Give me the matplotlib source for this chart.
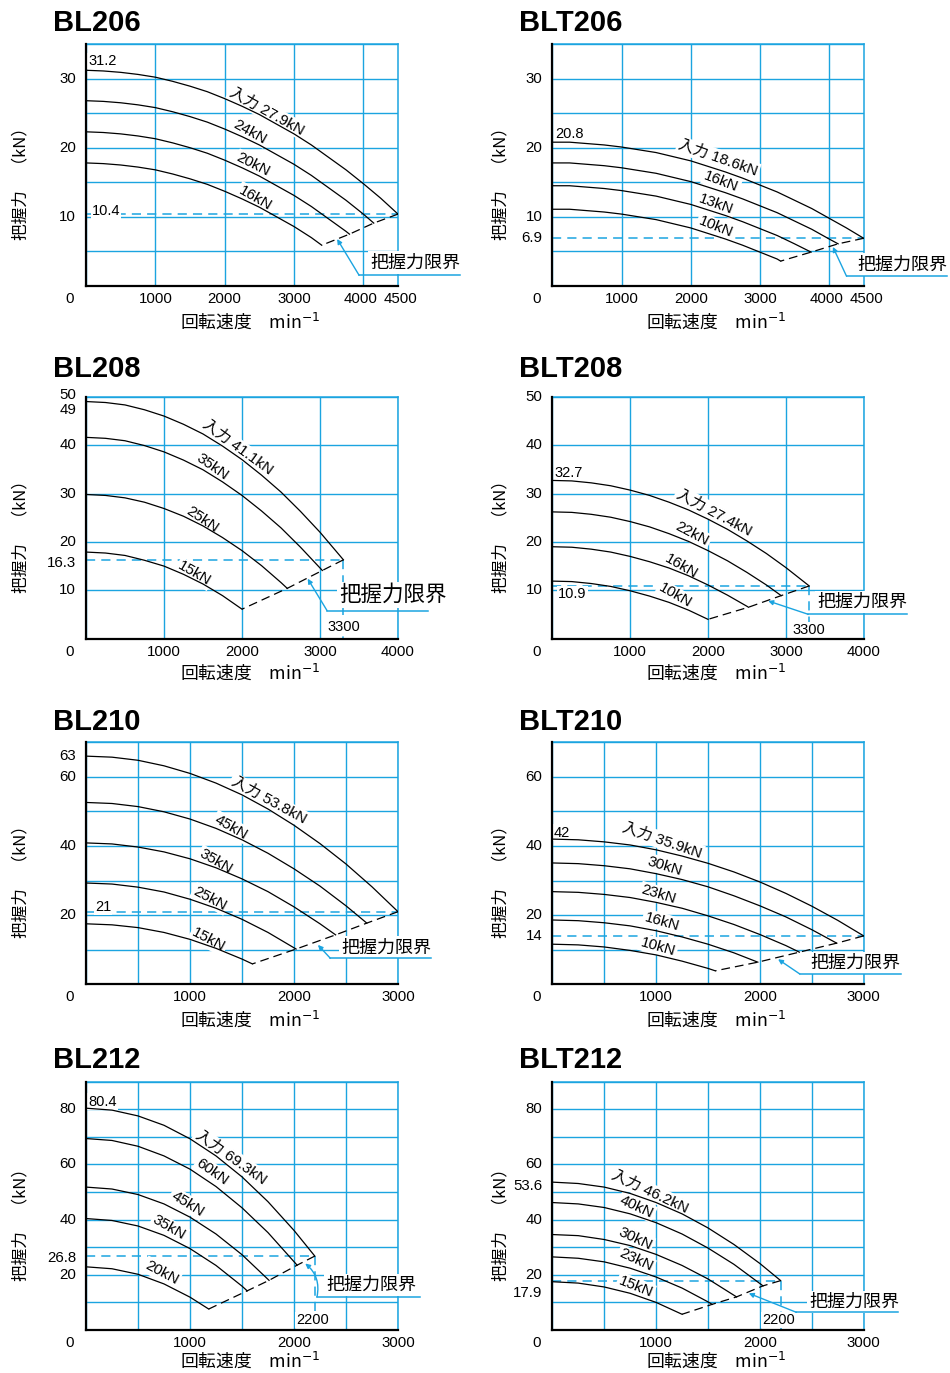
import matplotlib
matplotlib.use('Agg')
import matplotlib.pyplot as plt
from matplotlib.ticker import MultipleLocator

plt.rcParams['font.family'] = ['Liberation Sans', 'Noto Sans CJK JP', 'DejaVu Sans']
plt.rcParams['mathtext.fontset'] = 'dejavusans'

BLUE = '#1ba4e0'
JP = ['Noto Sans CJK JP', 'DejaVu Sans']
W, H = 950, 1373

# ---------------- data ----------------
# grip force (kN) read every 250 min-1, last value at the curve end speed
STEPS = [0, 250, 500, 750, 1000, 1250, 1500, 1750, 2000, 2250, 2500,
         2750, 3000, 3250, 3500, 3750, 4000, 4250, 4500]

bl206_names = ['入力 27.9kN', '24kN', '20kN', '16kN']
bl206_ends = [4500, 4150, 3800, 3400]
bl206_force = [
    [31.2, 31.1, 30.9, 30.6, 30.2, 29.6, 28.9, 28.1, 27.1, 26.0, 24.8, 23.4, 22.0, 20.4, 18.6, 16.8, 14.8, 12.7, 10.4],
    [26.8, 26.7, 26.5, 26.2, 25.8, 25.2, 24.5, 23.7, 22.7, 21.6, 20.4, 19.0, 17.6, 16.0, 14.2, 12.4, 10.4, 9.1],
    [22.3, 22.2, 22.0, 21.7, 21.3, 20.7, 20.0, 19.2, 18.2, 17.1, 15.9, 14.5, 13.1, 11.5, 9.7, 7.9, 7.5],
    [17.8, 17.7, 17.5, 17.2, 16.8, 16.2, 15.5, 14.7, 13.7, 12.6, 11.4, 10.0, 8.6, 7.0, 5.9]]
bl206_limit = [4500, 10.4]
bl206_xticks = [1000, 2000, 3000, 4000, 4500]
bl206_yticks = [10, 20, 30]
bl206_marks = ['31.2', '10.4']

blt206_names = ['入力 18.6kN', '16kN', '13kN', '10kN']
blt206_ends = [4500, 4130, 3740, 3300]
blt206_force = [
    [20.8, 20.8, 20.6, 20.4, 20.1, 19.7, 19.3, 18.7, 18.1, 17.3, 16.5, 15.6, 14.6, 13.6, 12.4, 11.2, 9.8, 8.4, 6.9],
    [17.8, 17.8, 17.6, 17.4, 17.1, 16.7, 16.3, 15.7, 15.1, 14.3, 13.5, 12.6, 11.6, 10.6, 9.4, 8.2, 6.8, 6.1],
    [14.5, 14.5, 14.3, 14.1, 13.8, 13.4, 13.0, 12.4, 11.8, 11.0, 10.2, 9.3, 8.3, 7.3, 6.1, 4.9],
    [11.1, 11.1, 10.9, 10.7, 10.4, 10.0, 9.6, 9.0, 8.4, 7.6, 6.8, 5.9, 4.9, 3.9, 3.6]]
blt206_limit = [4500, 6.9]
blt206_xticks = [1000, 2000, 3000, 4000, 4500]
blt206_yticks = [6.9, 10, 20, 30]
blt206_marks = ['20.8']

bl208_names = ['入力 41.1kN', '35kN', '25kN', '15kN']
bl208_ends = [3300, 3030, 2580, 2000]
bl208_force = [
    [49.0, 48.8, 48.3, 47.3, 46.0, 44.3, 42.3, 39.8, 37.0, 33.8, 30.3, 26.3, 22.0, 16.3],
    [41.6, 41.4, 40.9, 39.9, 38.6, 36.9, 34.9, 32.4, 29.6, 26.4, 22.9, 18.9, 14.1],
    [29.8, 29.6, 29.1, 28.2, 26.9, 25.3, 23.3, 20.9, 18.2, 15.1, 11.6, 10.4],
    [17.9, 17.7, 17.2, 16.2, 15.0, 13.3, 11.3, 8.9, 6.1]]
bl208_limit = [3300, 16.3]
bl208_xticks = [1000, 2000, 3000, 4000]
bl208_yticks = [10, 16.3, 20, 30, 40, 49, 50]
bl208_marks = ['3300']

blt208_names = ['入力 27.4kN', '22kN', '16kN', '10kN']
blt208_ends = [3300, 2940, 2520, 2000]
blt208_force = [
    [32.7, 32.6, 32.2, 31.6, 30.7, 29.6, 28.2, 26.6, 24.7, 22.6, 20.2, 17.6, 14.7, 10.9],
    [26.2, 26.1, 25.7, 25.1, 24.2, 23.1, 21.7, 20.1, 18.2, 16.1, 13.7, 11.1, 8.9],
    [19.0, 18.9, 18.5, 17.9, 17.0, 15.9, 14.6, 13.0, 11.1, 9.0, 6.7, 6.5],
    [11.9, 11.8, 11.4, 10.8, 9.9, 8.8, 7.5, 5.9, 4.0]]
blt208_limit = [3300, 10.9]
blt208_xticks = [1000, 2000, 3000, 4000]
blt208_yticks = [10, 20, 30, 40, 50]
blt208_marks = ['32.7', '10.9', '3300']

bl210_names = ['入力 53.8kN', '45kN', '35kN', '25kN', '15kN']
bl210_ends = [3000, 2700, 2400, 2020, 1600]
bl210_force = [
    [66.0, 65.7, 64.8, 63.2, 61.0, 58.2, 54.8, 50.7, 46.0, 40.7, 34.8, 28.2, 21.0],
    [52.6, 52.3, 51.4, 49.9, 47.8, 45.1, 41.8, 37.9, 33.4, 28.4, 22.7, 17.7],
    [40.9, 40.6, 39.7, 38.3, 36.3, 33.7, 30.5, 26.8, 22.4, 17.5, 14.3],
    [29.3, 29.0, 28.1, 26.7, 24.6, 22.0, 18.8, 15.0, 10.2],
    [17.5, 17.2, 16.4, 15.0, 13.0, 10.4, 7.3, 5.9]]
bl210_limit = [3000, 21]
bl210_xticks = [1000, 2000, 3000]
bl210_yticks = [20, 40, 60, 63]
bl210_marks = ['21']

blt210_names = ['入力 35.9kN', '30kN', '23kN', '16kN', '10kN']
blt210_ends = [3000, 2740, 2380, 1980, 1570]
blt210_force = [
    [42.0, 41.8, 41.2, 40.3, 38.9, 37.1, 35.0, 32.5, 29.6, 26.3, 22.6, 18.5, 14.0],
    [35.1, 34.9, 34.3, 33.4, 32.0, 30.3, 28.2, 25.6, 22.7, 19.5, 15.8, 11.9],
    [26.8, 26.6, 26.0, 25.1, 23.7, 22.0, 19.8, 17.3, 14.4, 11.2, 9.3],
    [18.6, 18.4, 17.8, 16.9, 15.5, 13.7, 11.6, 9.1, 6.4],
    [11.6, 11.4, 10.8, 9.8, 8.5, 6.7, 4.6, 3.9]]
blt210_limit = [3000, 14]
blt210_xticks = [1000, 2000, 3000]
blt210_yticks = [14, 20, 40, 60]
blt210_marks = ['42']

bl212_names = ['入力 69.3kN', '60kN', '45kN', '35kN', '20kN']
bl212_ends = [2200, 2030, 1760, 1550, 1180]
bl212_force = [
    [80.4, 79.7, 77.6, 74.2, 69.3, 63.1, 55.5, 46.5, 36.1, 26.8],
    [69.4, 68.7, 66.6, 63.1, 58.3, 52.0, 44.3, 35.3, 23.5],
    [51.8, 51.1, 49.1, 45.7, 40.9, 34.8, 27.3, 18.0],
    [40.4, 39.7, 37.7, 34.3, 29.5, 23.4, 15.9, 14.2],
    [22.9, 22.2, 20.2, 16.7, 11.9, 7.6]]
bl212_limit = [2200, 26.8]
bl212_xticks = [1000, 2000, 3000]
bl212_yticks = [20, 26.8, 40, 60, 80]
bl212_marks = ['80.4', '2200']

blt212_names = ['入力 46.2kN', '40kN', '30kN', '23kN', '15kN']
blt212_ends = [2200, 2030, 1775, 1540, 1250]
blt212_force = [
    [53.6, 53.1, 51.8, 49.5, 46.2, 42.1, 37.0, 31.0, 24.1, 17.9],
    [46.2, 45.7, 44.4, 42.1, 38.9, 34.8, 29.7, 23.8, 16.0],
    [34.6, 34.2, 32.8, 30.6, 27.4, 23.4, 18.5, 12.0],
    [26.5, 26.0, 24.7, 22.4, 19.2, 15.2, 10.2, 9.3],
    [17.5, 17.0, 15.6, 13.3, 10.0, 5.7]]
blt212_limit = [2200, 17.9]
blt212_xticks = [1000, 2000, 3000]
blt212_yticks = [17.9, 20, 40, 53.6, 60, 80]
blt212_marks = ['2200']

panels = [
    ('BL206', bl206_names, bl206_ends, bl206_force, bl206_limit, bl206_xticks, bl206_yticks, bl206_marks),
    ('BLT206', blt206_names, blt206_ends, blt206_force, blt206_limit, blt206_xticks, blt206_yticks, blt206_marks),
    ('BL208', bl208_names, bl208_ends, bl208_force, bl208_limit, bl208_xticks, bl208_yticks, bl208_marks),
    ('BLT208', blt208_names, blt208_ends, blt208_force, blt208_limit, blt208_xticks, blt208_yticks, blt208_marks),
    ('BL210', bl210_names, bl210_ends, bl210_force, bl210_limit, bl210_xticks, bl210_yticks, bl210_marks),
    ('BLT210', blt210_names, blt210_ends, blt210_force, blt210_limit, blt210_xticks, blt210_yticks, blt210_marks),
    ('BL212', bl212_names, bl212_ends, bl212_force, bl212_limit, bl212_xticks, bl212_yticks, bl212_marks),
    ('BLT212', blt212_names, blt212_ends, blt212_force, blt212_limit, blt212_xticks, blt212_yticks, blt212_marks),
]

# ---------------- layout (pixels / data positions of annotations) ----------------
L, R = (86, 398), (552.3, 863.7)
rows = [(44, 286), (396.7, 638.7), (742.3, 984.3), (1081.7, 1330)]
title_base = [30.7, 376.7, 730, 1067.7]
xlab_drop = [-42, -40, -41, -37]

layout = {
    'BL206': dict(xmax=4500, ymax=35, gx=1000, gy=5,
                  lab=[(2607, 25.2, -29), (2366, 22.3, -29), (2414, 17.5, -27), (2439, 12.7, -30)],
                  num=[(30, 32.5, 'left'), (82, 10.9, 'left')],
                  note=(4747, 3.4), line=(3939, 5397, 1.55), tgt=(3622, 6.8), fs=13, rad=0,
                  xoff={4000: -3, 4500: 3}, yoff={}),
    'BLT206': dict(xmax=4500, ymax=35, gx=1000, gy=5,
                   lab=[(2395, 18.5, -19.5), (2444, 15.1, -21), (2372, 11.85, -20), (2357, 8.5, -22)],
                   num=[(39, 22.0, 'left')],
                   note=(5060, 3.1), line=(4252, 5710, 1.41), tgt=(4055, 5.65), fs=13, rad=0,
                   xoff={4000: -3, 4500: 3}, yoff={}),
    'BL208': dict(xmax=4000, ymax=50, gx=1000, gy=10,
                  lab=[(1943, 39.5, -36), (1622, 35.4, -35), (1485, 24.7, -34), (1387, 13.4, -30)],
                  num=[(3300, 2.35, 'center')],
                  note=(3935, 9.0), line=(3091, 4387, 5.79), tgt=(2842, 12.4), fs=15.5, rad=0,
                  xoff={}, yoff={49: -8, 50: 2, 16.3: -3}),
    'BLT208': dict(xmax=4000, ymax=50, gx=1000, gy=10,
                   lab=[(2076, 26.1, -28), (1798, 21.6, -28), (1661, 14.9, -30), (1575, 8.9, -30)],
                   num=[(34, 34.3, 'left'), (73, 9.2, 'left'), (3300, 1.8, 'center')],
                   note=(3977, 7.6), line=(3287, 4558, 5.04), tgt=(2773, 7.8), fs=13, rad=0,
                   xoff={}, yoff={}),
    'BL210': dict(xmax=3000, ymax=70, gx=500, gy=10,
                  lab=[(1755, 53.2, -28.5), (1393, 45.5, -30), (1248, 35.5, -30), (1193, 24.7, -28), (1177, 12.8, -28)],
                  num=[(87, 22.5, 'left')],
                  note=(2888, 10.7), line=(2349, 3321, 7.54), tgt=(2230, 11.4), fs=13, rad=0,
                  xoff={}, yoff={63: 10}),
    'BLT210': dict(xmax=3000, ymax=70, gx=500, gy=10,
                   lab=[(1059, 41.6, -19), (1085, 34.1, -17), (1027, 25.9, -17), (1053, 18.1, -16), (1021, 10.9, -16)],
                   num=[(16, 43.9, 'left')],
                   note=(2923, 6.2), line=(2384, 3356, 2.99), tgt=(2175, 7.25), fs=13, rad=0,
                   xoff={}, yoff={}),
    'BL212': dict(xmax=3000, ymax=90, gx=500, gy=10,
                  lab=[(1393, 62.7, -35), (1216, 57.3, -35), (975, 45.8, -32), (799, 37.1, -30), (728, 20.9, -28)],
                  num=[(19, 82.8, 'left'), (2180, 3.6, 'center')],
                  note=(2743, 16.3), line=(2221, 3215, 12.0), tgt=(2108, 24.1), fs=13, rad=0.3,
                  xoff={}, yoff={26.8: -2}),
    'BLT212': dict(xmax=3000, ymax=90, gx=500, gy=10,
                   lab=[(940, 50.0, -25), (812, 44.6, -25), (796, 33.2, -25), (803, 25.3, -25), (803, 15.7, -22)],
                   num=[(2180, 3.6, 'center')],
                   note=(2912, 10.2), line=(2352, 3327, 6.4), tgt=(1893, 13.3), fs=13, rad=0,
                   xoff={}, yoff={17.9: -12, 53.6: -4}),
}

fig = plt.figure(figsize=(W / 100, H / 100), dpi=100)

for i, (title, names, ends, force, limit, xticks, yticks, marks) in enumerate(panels):
    lay = layout[title]
    row, col = divmod(i, 2)
    x0, x1 = (L, R)[col]
    top, bot = rows[row]
    ax = fig.add_axes([x0 / W, 1 - bot / H, (x1 - x0) / W, (bot - top) / H])
    ax.set_xlim(0, lay['xmax'])
    ax.set_ylim(0, lay['ymax'])
    ax.xaxis.set_major_locator(MultipleLocator(lay['gx']))
    ax.yaxis.set_major_locator(MultipleLocator(lay['gy']))
    ax.tick_params(length=0, labelbottom=False, labelleft=False)
    ax.set_axisbelow(True)
    ax.grid(True, color=BLUE, lw=1.0)
    for s in ['top', 'right']:
        ax.spines[s].set_color(BLUE)
        ax.spines[s].set_linewidth(1.1)
    for s in ['left', 'bottom']:
        ax.spines[s].set_color('black')
        ax.spines[s].set_linewidth(1.6)
        ax.spines[s].set_zorder(4)

    # curves + limit line through curve ends
    ex, ey = [], []
    for end, fo in zip(ends, force):
        sp = STEPS[:len(fo) - 1] + [end]
        ax.plot(sp, fo, color='black', lw=0.9, zorder=3, solid_joinstyle='round')
        ex.append(end)
        ey.append(fo[-1])
    ax.plot(ex, ey, color='black', lw=0.9, dashes=(7, 4), zorder=3)

    # grip force limit (blue dashed)
    ls, lf = limit
    ax.plot([0, ls], [lf, lf], color=BLUE, lw=1.1, dashes=(6, 4), zorder=1.2, clip_on=False)
    if ls < lay['xmax']:
        ax.plot([ls, ls], [lf, 0], color=BLUE, lw=1.1, dashes=(6, 4), zorder=1.2)

    for name, (lx, ly, rot) in zip(names, lay['lab']):
        ax.text(lx, ly, name, rotation=rot, rotation_mode='anchor', ha='center', va='center',
                fontsize=11, zorder=2, bbox=dict(fc='white', ec='none', pad=1.2))
    for m, (mx, my, ha) in zip(marks, lay['num']):
        ax.text(mx, my, m, ha=ha, va='center', fontsize=10.5, zorder=2,
                bbox=dict(fc='white', ec='none', pad=0.8))

    # tick labels
    for v in xticks:
        ax.annotate(f'{v:g}', xy=(v, 0), xycoords=('data', 'axes fraction'),
                    xytext=(lay['xoff'].get(v, 0), -13), textcoords='offset pixels',
                    ha='center', va='center', fontsize=10.8, annotation_clip=False)
    for v in yticks:
        ax.annotate(f'{v:g}', xy=(0, v), xycoords=('axes fraction', 'data'),
                    xytext=(-10, lay['yoff'].get(v, 0)), textcoords='offset pixels',
                    ha='right', va='center', fontsize=10.8, annotation_clip=False)
    ax.annotate('0', xy=(0, 0), xycoords='axes fraction', xytext=(-16, -13),
                textcoords='offset pixels', ha='center', va='center', fontsize=10.8)

    ax.annotate('回転速度　min$^{-1}$', xy=(0, 0), xycoords='axes fraction', xytext=(94, xlab_drop[row]),
                textcoords='offset pixels', ha='left', va='baseline', fontsize=12.8, family=JP)
    ax.annotate('把握力　（kN）', xy=(0, 0.44), xycoords='axes fraction',
                xytext=((-65, -51)[col], 0), textcoords='offset pixels',
                rotation=90, ha='center', va='center', fontsize=12, family=JP)

    # 把握力限界 callout
    nx, ny = lay['note']
    ax.text(nx, ny, '把握力限界', ha='center', va='center', fontsize=lay['fs'], family=JP,
            zorder=6, clip_on=False, bbox=dict(fc='white', ec='none', pad=1.5))
    ux0, ux1, uy = lay['line']
    ax.plot([ux0, ux1], [uy, uy], color=BLUE, lw=1.1, zorder=6, clip_on=False)
    ax.annotate('', xy=lay['tgt'], xytext=(ux0, uy), annotation_clip=False, zorder=6,
                arrowprops=dict(arrowstyle='-|>', color=BLUE, lw=1.0, mutation_scale=7,
                                shrinkA=0, shrinkB=0,
                                connectionstyle=f"arc3,rad={lay['rad']}"))

    fig.text((53, 519.3)[col] / W, 1 - title_base[row] / H, title, fontsize=21,
             fontweight='bold', ha='left', va='baseline')

fig.savefig('out.png', dpi=100)
